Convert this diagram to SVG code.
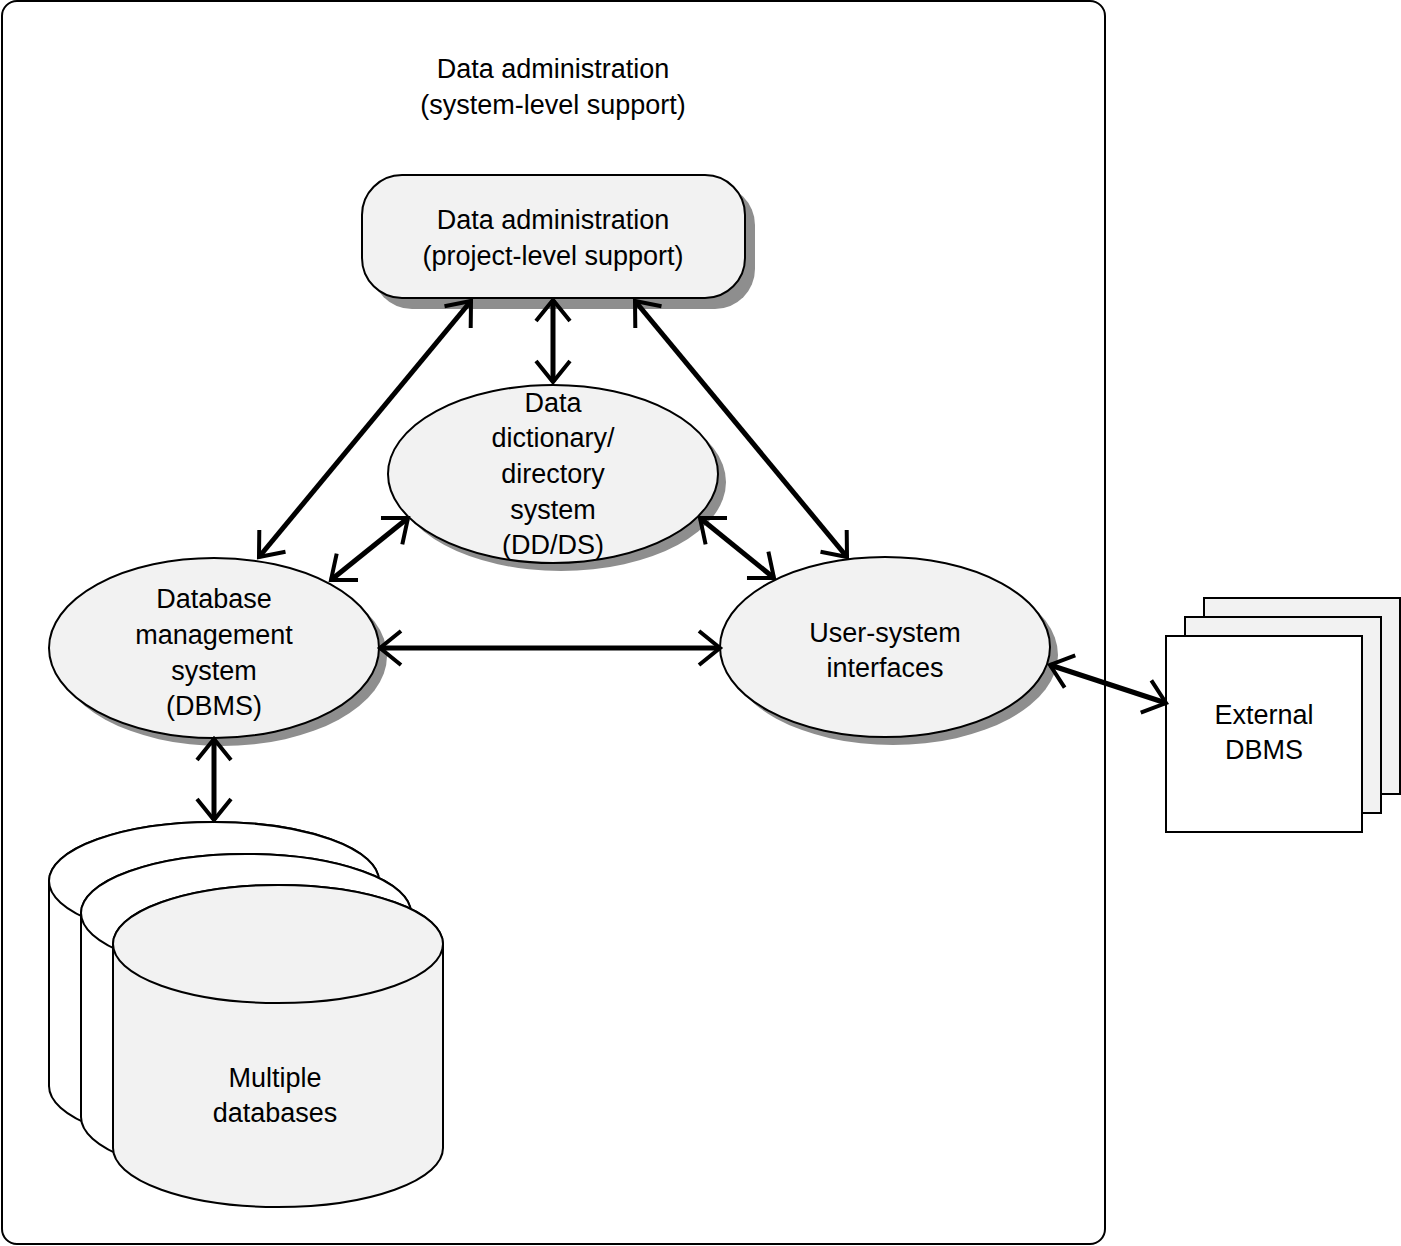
<svg xmlns="http://www.w3.org/2000/svg" width="1401" height="1246" viewBox="0 0 1401 1246">
<style>
text{font-family:"Liberation Sans",Arial,sans-serif;font-size:27px;fill:#000;text-anchor:middle}
.sh{fill:#8e8e8e;stroke:none}
.nd{fill:#f2f2f2;stroke:#000;stroke-width:2}
.wh{fill:#fff;stroke:#000;stroke-width:2}
.cn line{stroke:#000;stroke-width:5;marker-start:url(#ah);marker-end:url(#ah)}
</style>
<defs>
<marker id="ah" viewBox="-30 -25 40 50" markerUnits="userSpaceOnUse" markerWidth="40" markerHeight="50" refX="0" refY="0" orient="auto-start-reverse">
<path d="M-21,-17 L0,0 L-21,17" fill="none" stroke="#000" stroke-width="4"/>
</marker>
</defs>
<rect id="frame" x="2" y="1" width="1103" height="1243" rx="15" fill="#fff" stroke="#000" stroke-width="2"/>
<g id="title">
<text x="553" y="78">Data administration</text>
<text x="553" y="114">(system-level support)</text>
</g>
<g id="project-da">
<rect class="sh" x="372" y="185" width="383" height="124" rx="40"/>
<rect class="nd" x="362" y="175" width="383" height="123" rx="40"/>
<text x="553" y="229">Data administration</text>
<text x="553" y="265">(project-level support)</text>
</g>
<g id="ddds">
<ellipse class="sh" cx="561" cy="482" rx="165" ry="89"/>
<ellipse class="nd" cx="553" cy="474" rx="165" ry="89"/>
<text x="553" y="412">Data</text>
<text x="553" y="447">dictionary/</text>
<text x="553" y="483">directory</text>
<text x="553" y="519">system</text>
<text x="553" y="554">(DD/DS)</text>
</g>
<g id="dbms">
<ellipse class="sh" cx="222" cy="656" rx="165" ry="90"/>
<ellipse class="nd" cx="214" cy="648" rx="165" ry="90"/>
<text x="214" y="608">Database</text>
<text x="214" y="644">management</text>
<text x="214" y="680">system</text>
<text x="214" y="715">(DBMS)</text>
</g>
<g id="usi">
<ellipse class="sh" cx="893" cy="655" rx="165" ry="90"/>
<ellipse class="nd" cx="885" cy="647" rx="165" ry="90"/>
<text x="885" y="642">User-system</text>
<text x="885" y="677">interfaces</text>
</g>
<g id="databases">
<path class="wh" d="M49,881 A165,59 0 0 1 379,881 L379,1086 A165,59 0 0 1 49,1086 Z"/>
<ellipse class="wh" cx="214" cy="881" rx="165" ry="59"/>
<path class="wh" d="M81,913 A165,59 0 0 1 411,913 L411,1117 A165,59 0 0 1 81,1117 Z"/>
<ellipse class="wh" cx="246" cy="913" rx="165" ry="59"/>
<path class="nd" d="M113,944 A165,59 0 0 1 443,944 L443,1148 A165,59 0 0 1 113,1148 Z"/>
<ellipse class="nd" cx="278" cy="944" rx="165" ry="59"/>
<text x="275" y="1087">Multiple</text>
<text x="275" y="1122">databases</text>
</g>
<g id="external">
<rect class="nd" x="1204" y="598" width="196" height="196"/>
<rect class="nd" x="1185" y="617" width="196" height="196"/>
<rect class="wh" x="1166" y="636" width="196" height="196"/>
<text x="1264" y="724">External</text>
<text x="1264" y="759">DBMS</text>
</g>
<g id="connectors" class="cn">
<line x1="471" y1="301" x2="259" y2="557"/>
<line x1="553" y1="300" x2="553" y2="382"/>
<line x1="635" y1="301" x2="847" y2="557"/>
<line x1="408" y1="518" x2="331" y2="580"/>
<line x1="700" y1="518" x2="774" y2="578"/>
<line x1="380" y1="648" x2="720" y2="648"/>
<line x1="214" y1="739" x2="214" y2="820"/>
<line x1="1050" y1="665" x2="1166" y2="703"/>
</g>
</svg>
